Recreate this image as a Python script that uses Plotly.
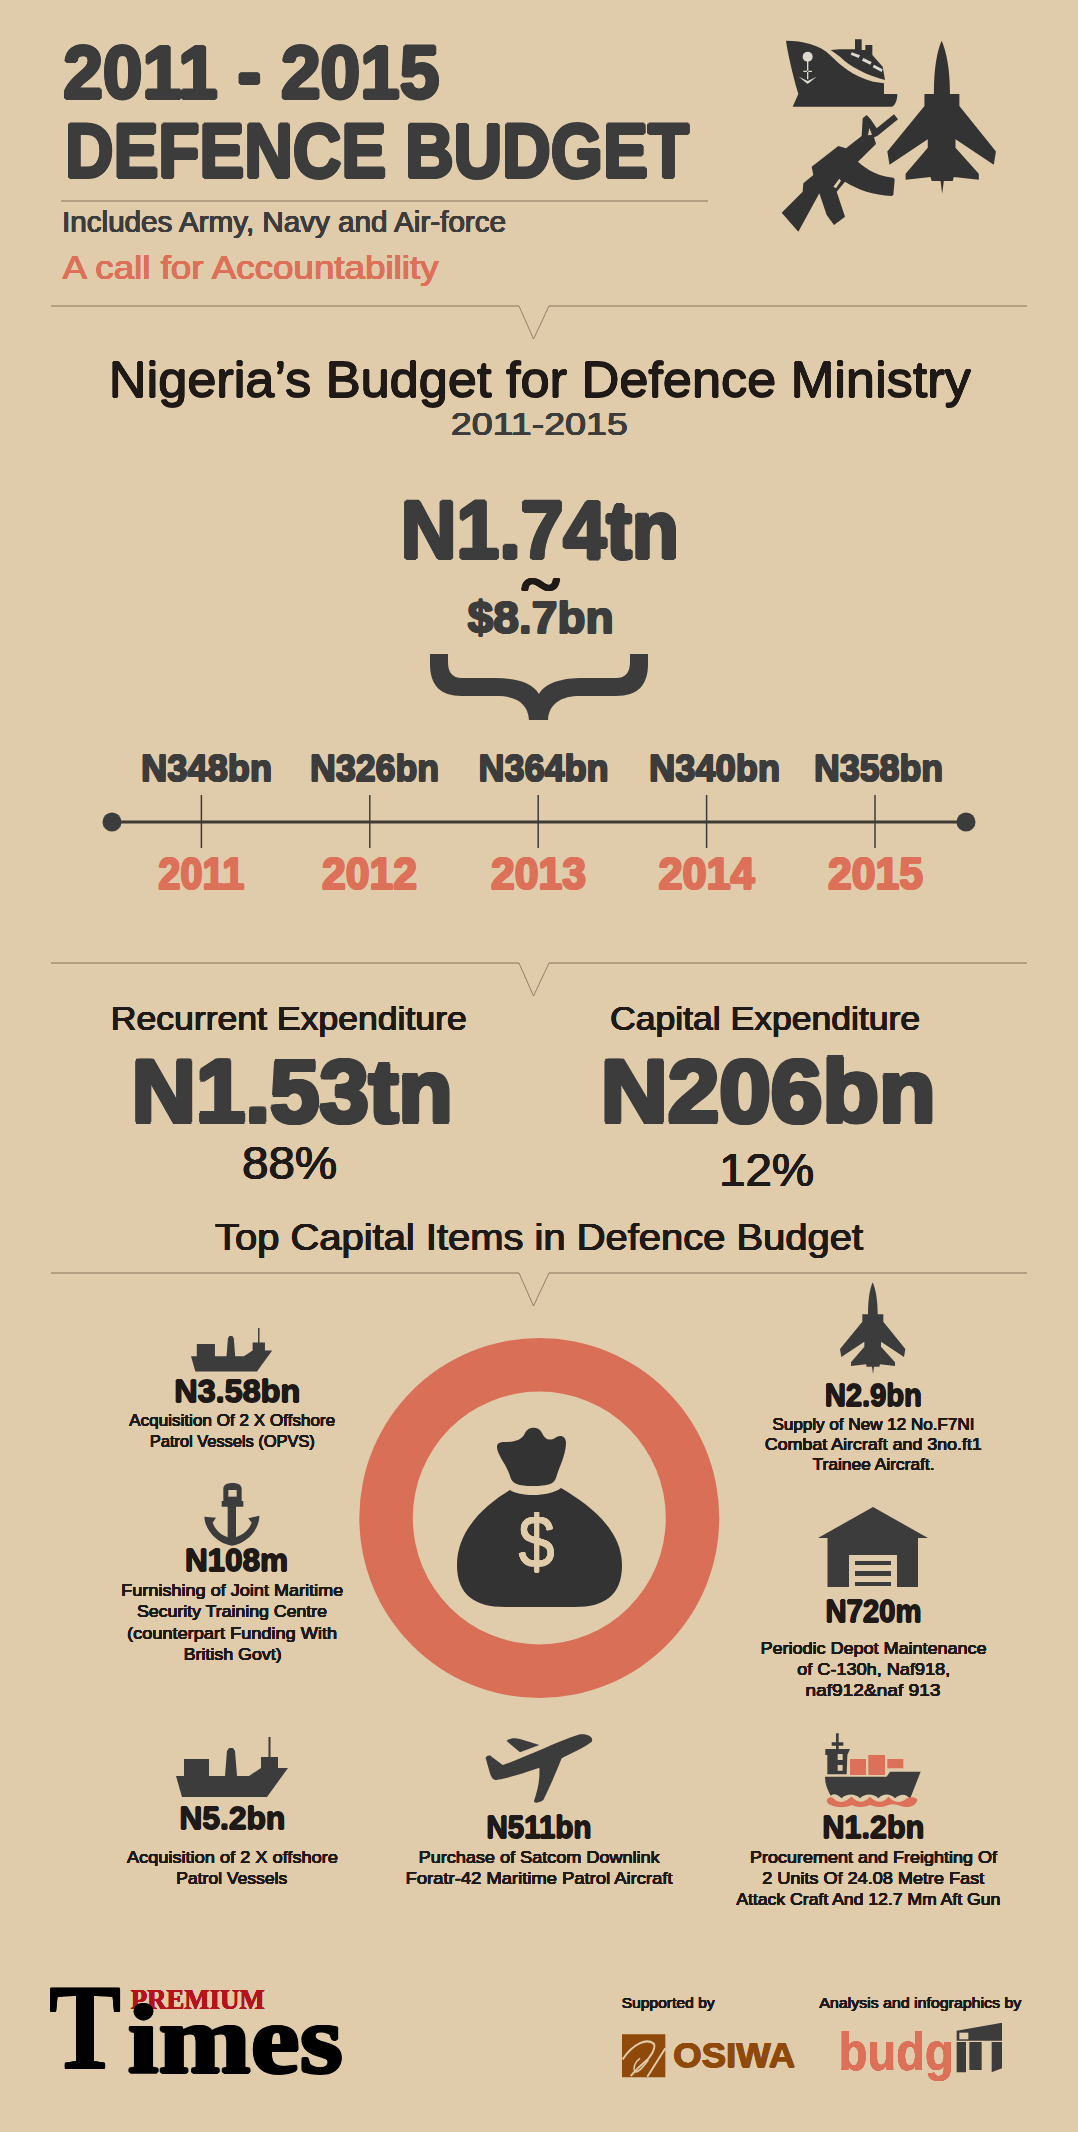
import re, json
import plotly.graph_objects as go

# ---------- data ----------
years = [2011, 2012, 2013, 2014, 2015]
budget_bn = [348, 326, 364, 340, 358]
total_label = "N1.74tn"
total_usd_label = "$8.7bn"
recurrent_label, recurrent_share = "N1.53tn", "88%"
capital_label, capital_share = "N206bn", "12%"
item_amounts = ["N3.58bn", "N108m", "N5.2bn", "N511bn", "N1.2bn", "N2.9bn", "N720m"]
item_texts = [
    ["Acquisition Of 2 X Offshore", "Patrol Vessels (OPVS)"],
    ["Furnishing of Joint Maritime", "Security Training Centre", "(counterpart Funding With", "British Govt)"],
    ["Acquisition of 2 X offshore", "Patrol Vessels"],
    ["Purchase of Satcom Downlink", "Foratr-42 Maritime Patrol Aircraft"],
    ["Procurement and Freighting Of", "2 Units Of 24.08 Metre Fast", "Attack Craft And 12.7 Mm Aft Gun"],
    ["Supply of New 12 No.F7NI", "Combat Aircraft and 3no.ft1", "Trainee Aircraft."],
    ["Periodic Depot Maintenance", "of C-130h, Naf918,", "naf912&naf 913"],
]

# ---------- style / layout ----------
W, H = 1078, 2132
BG, DARK, INK, CORAL, RULE, ICON = "#e0cbaa", "#3c3c3c", "#1f1a17", "#dc7058", "#b39f82", "#333333"
SANS, SERIF = "Liberation Sans", "Liberation Serif"
# amount x, text x per line, amount baseline, amount width, text baselines, text widths
item_pos = [(237, [232, 232], 1403, 126, [1426, 1447], [206, 165]),
            (236, [232, 232, 232, 232], 1572, 103, [1596, 1617, 1639, 1660], [222, 190, 210, 98]),
            (232, [232, 232], 1830, 106, [1863, 1884], [211, 111]),
            (539, [539, 539], 1839, 105, [1863, 1884], [241, 267]),
            (873, [873, 873, 868], 1839, 102, [1863, 1884, 1905], [247, 222, 264]),
            (873, [873, 873, 873], 1407, 97, [1430, 1450, 1470], [202, 217, 122]),
            (873, [873, 873, 873], 1623, 96, [1654, 1675, 1696], [226, 153, 135])]
label_shift = [5, 5, 5, 8, 3]
label_w = [131, 129, 130, 131, 129]
year_w = [86, 95, 95, 96, 95]
PX_PER_YEAR = 168.4
X0 = 2011 - 201.4 / PX_PER_YEAR
LINE_Y, TICK_TOP, TICK_BOTTOM = 822, 795, 848
ann, shp, widths = [], [], []


def stroke(c, t):
    if not t:
        return None
    return ",".join(f"{a*t}px {b*t}px 0 {c}" for a, b in
                    [(1, 0), (-1, 0), (0, 1), (0, -1), (.7, .7), (-.7, .7), (.7, -.7), (-.7, -.7)])


def T(s, x, base, size, w=None, color=DARK, fam=SANS, bold=True, thick=0, xref="x", xshift=0):
    size = size * 0.97
    f = dict(family=fam, size=size, color=color, weight=700 if bold else 400)
    sh = stroke(color, thick)
    if sh:
        f["shadow"] = sh
    ann.append(dict(text=s, x=x, y=base + 0.15 * size + 1, xref=xref, yref="y", showarrow=False,
                    xanchor="center", yanchor="bottom", font=f, borderpad=0, borderwidth=0, xshift=xshift))
    widths.append(w)


def P(d, ox=0, oy=0, s=1.0):
    toks = re.findall(r"[MLCZ]|-?\d+\.?\d*", d)
    out, i = [], 0
    while i < len(toks):
        if toks[i] in "MLCZ":
            out.append(toks[i]); i += 1
        else:
            out.append(f"{ox + float(toks[i]) * s:.2f},{oy + float(toks[i + 1]) * s:.2f}"); i += 2
    return " ".join(out)


def fill(d, color=ICON):
    shp.append(dict(type="path", path=d, fillcolor=color, line=dict(width=0), layer="below", xref="x", yref="y"))


def line(d, color, w):
    shp.append(dict(type="path", path=d, line=dict(color=color, width=w), layer="below", xref="x", yref="y"))


def ell(cx, cy, r, color):
    shp.append(dict(type="circle", x0=cx - r, x1=cx + r, y0=cy - r, y1=cy + r, fillcolor=color,
                    line=dict(width=0), layer="below", xref="x", yref="y"))


def divider(y):
    line(f"M51,{y} L519,{y} M549,{y} L1027,{y}", RULE, 2)
    line(f"M519,{y} L533.5,{y + 33} L549,{y}", "#6f6250", 0.7)


JET = ("M218,22 C226,40 233,70 233,118 L250,118 L250,140 L316,222 L312,246 L243,200 L243,215 L285,262 L285,273 "
       "L240,268 L238,275 L222,275 L219,298 L216,275 L200,275 L198,268 L153,273 L153,262 L193,215 L193,200 "
       "L124,246 L120,222 L187,140 L187,118 L204,118 C204,70 210,40 218,22 Z")
SHIP = ("M0,39 L8,39 L8,22 L33,22 L33,39 L49,39 L51,14 L53,11 L57,11 L59,14 L61,39 L73,39 L85,31 L85,20 L92.5,20 "
        "L92.5,0 L94.5,0 L94.5,20 L102,20 L102,31 L112,31 L91,60 L6,60 Z")

# --- header ---
T("2011 - 2015", 251, 102, 77, 376, thick=1.8)
T("DEFENCE BUDGET", 377, 181, 78, 624, thick=1.8)
line("M61,201 L708,201", RULE, 2)
T("Includes Army, Navy and Air-force", 284, 233, 30, 444, bold=False, thick=.35)
T("A call for Accountability", 250, 280, 35, 376, color=CORAL, bold=False, thick=.35)
# header icons
z = 1 / 3
fill(P("M78,62 C130,62 180,75 210,105 C240,135 280,170 340,185 L372,190 L372,222 L412,222 C412,240 405,258 395,260 "
       "L98,260 L115,222 C100,170 85,110 78,62 Z", 760, 20, z))
fill(P("M212,90 L240,88 L285,88 L285,58 L305,58 L305,90 L316,90 L316,75 L337,75 L337,105 L368,140 L375,180 "
       "C320,165 270,140 240,110 Z", 760, 20, z))
for d in ["M275,97 L300,106 L296,114 L272,104 Z", "M310,114 L335,126 L331,134 L306,122 Z",
          "M342,134 L368,148 L365,156 L338,142 Z"]:
    fill(P(d, 760, 20, z), "#ded9cf")
ell(760 + 143 / 3, 20 + 110 / 3, 5, "#ded9cf")
fill(P("M141,120 L145,120 L145,178 L141,178 Z M116,170 L143,183 L170,170 L143,192 Z M130,152 L156,152 L156,156 L130,156 Z",
       760, 20, z), "#ded9cf")
fill(P("M402,283 L414,298 L352,348 L342,352 L348,372 L294,425 C320,450 360,470 400,473 L404,478 L400,525 L395,528 "
       "C340,525 295,510 255,485 L230,515 L255,590 L222,615 L200,585 L178,520 L115,635 L65,578 L128,515 L130,490 "
       "L160,465 L155,440 L235,378 L258,385 L305,348 L308,295 L320,285 L332,298 L350,325 Z", 760, 20, z))
fill(P("M238,476 L243,482 L228,505 L220,500 Z M328,324 L336,344 L324,346 Z", 760, 20, z), BG)
fill(P(JET, 820.8, 28.47, 0.5543))

# --- total ---
divider(306)
T("Nigeria’s Budget for Defence Ministry", 540, 399, 52, 862, color=INK, bold=False, thick=.6)
T("2011-2015", 539.5, 436, 33, 177, bold=False, thick=.35)
T(total_label, 540, 562, 85, 278, thick=2)
T("~", 540, 606, 58, 38, color=INK, fam=SERIF, thick=.8)
T(total_usd_label, 540, 634, 46, 146, thick=.9)
fill("M430,654 L448,654 L448,662 C448,672 452,678 462,678 L495,678 C515,678 532,682 539,694 C546,682 563,678 583,678 "
     "L616,678 C626,678 630,672 630,662 L630,654 L648,654 L648,664 C648,685 638,696 616,696 L580,696 C562,696 549,703 "
     "548,720 L529,720 C528,703 515,696 497,696 L462,696 C440,696 430,685 430,664 Z", DARK)

# --- timeline labels ---
for yr, v, sh, lw, yw in zip(years, budget_bn, label_shift, label_w, year_w):
    T(f"N{v}bn", yr, 782, 38, lw, xref="x2", xshift=sh, thick=.8)
    T(str(yr), yr, 890, 45, yw, color=CORAL, xref="x2", thick=1.1)

# --- split ---
divider(963)
T("Recurrent Expenditure", 289, 1031, 35, 356, color=INK, bold=False, thick=.4)
T("Capital Expenditure", 765, 1031, 35, 310, color=INK, bold=False, thick=.4)
T(recurrent_label, 291.5, 1127, 92, 321, thick=2.4)
T(capital_label, 767.5, 1127, 92, 335, thick=2.4)
T(recurrent_share, 289, 1181, 48, 95, color=INK, bold=False, thick=.4)
T(capital_share, 766, 1188, 48, 95, color=INK, bold=False, thick=.4)
T("Top Capital Items in Defence Budget", 539, 1251, 39, 648, color=INK, bold=False, thick=.45)
divider(1273)

# --- ring and bag ---
ell(539.3, 1518, 180, "#d96f57")
ell(539.3, 1518, 126.5, BG)
fill("M497,1447 C497,1443 500,1442 505,1442 C515,1442 522,1440 525,1433 C528,1426 539,1426 542,1433 C545,1440 550,1441 "
     "555,1438 C560,1434 566,1436 566,1443 C566,1455 558,1470 556,1478 C554,1484 548,1486 533,1486 C518,1486 512,1484 "
     "510,1476 C507,1465 497,1455 497,1447 Z")
fill("M510,1490 C520,1497 550,1497 561,1488 C590,1505 622,1530 622,1565 C622,1595 605,1607 575,1607 L505,1607 "
     "C475,1607 457,1595 457,1565 C457,1530 485,1505 510,1490 Z")
T("$", 536, 1571, 76, 36, color=BG, bold=False, thick=.5)

# --- items text ---
for amt, lines, (ax, txs, base, aw, bases, ws) in zip(item_amounts, item_texts, item_pos):
    T(amt, ax, base, 33, aw, color=INK, thick=.6)
    for s, tx, b, w in zip(lines, txs, bases, ws):
        T(s, tx, b, 17.5, w, color=INK, bold=False, thick=.15)

# --- item icons ---
fill(P(SHIP, 191, 1328, 0.725), DARK)
fill(P(SHIP, 176, 1737, 1.0), DARK)
fill(P(JET, 800, 1275, z), DARK)
# anchor
fill(P("M143,95 L168,95 L168,190 L155,208 L143,190 Z M125,78 L190,78 L190,95 L125,95 Z "
       "M130,78 L130,42 C130,30 140,24 157,24 C175,24 185,30 185,42 L185,78 Z", 180, 1475, z), DARK)
fill(P("M145,45 L170,45 L170,65 L145,65 Z", 180, 1475, z), BG)
fill(P("M73,125 L108,128 L98,143 C108,170 130,185 155,190 C180,185 205,170 215,143 L205,130 L238,122 "
       "C238,165 200,205 155,212 C110,205 75,165 73,125 Z", 180, 1475, z), DARK)
# house
fill("M873,1507 L928,1538 L918,1538 L918,1587 L827.5,1587 L827.5,1538 L818,1538 Z", DARK)
fill("M849,1555 L897,1555 L897,1587 L849,1587 Z", BG)
fill("M855,1561 L891,1561 L891,1565 L855,1565 Z M855,1571 L891,1571 L891,1576 L855,1576 Z "
     "M855,1582 L891,1582 L891,1586 L855,1586 Z", DARK)
# plane
fill(P("M330,28 C355,25 372,38 365,50 C340,70 300,85 275,100 C255,150 235,195 220,225 C205,235 192,235 192,228 "
       "C205,190 210,160 208,128 C160,145 110,160 80,165 C70,165 65,160 60,145 L47,100 C47,92 60,88 65,95 L98,120 "
       "C160,100 260,50 330,28 Z M110,48 C120,38 135,38 150,42 L208,60 L150,82 Z", 470, 1725, z), DARK)
# container ship
fill(P("M75,155 L260,155 L270,140 L362,140 L330,222 C320,205 300,205 285,220 C270,205 250,205 235,220 C220,205 195,205 "
       "180,220 C165,205 140,205 125,220 C110,205 100,205 92,212 C80,190 75,175 75,155 Z "
       "M82,148 L82,90 L76,90 L76,72 L150,72 L142,90 L140,148 Z "
       "M108,25 L116,25 L116,52 L130,52 L130,62 L116,62 L116,72 L108,72 L108,62 L95,62 L95,52 L108,52 Z",
       800, 1725, z), DARK)
fill(P("M113,87 L128,87 L128,105 L113,105 Z M113,120 L128,120 L128,137 L113,137 Z", 800, 1725, z), BG)
fill(P("M150,102 L198,102 L198,150 L150,150 Z M205,90 L255,90 L255,150 L205,150 Z M262,102 L310,102 L310,130 L262,130 Z",
       800, 1725, z), CORAL)
fill(P("M80,225 C85,215 95,215 100,220 C115,235 130,235 155,215 C175,235 190,235 210,215 C230,235 250,235 265,215 "
       "C285,235 305,235 320,220 C330,215 350,215 352,225 C350,240 330,250 310,245 C290,240 280,235 265,240 "
       "C250,248 230,248 210,240 C190,248 170,248 155,240 C140,248 115,248 100,243 C88,240 80,235 80,225 Z",
       800, 1725, z), CORAL)

# --- footer ---
T("PREMIUM", 197, 2010, 30, 134, color="#b5121b", fam=SERIF, thick=.2)
T("T", 85, 2075, 124, 72, color="#000000", fam=SERIF, thick=.8)
T("imes", 235.5, 2077, 100, 215, color="#000000", fam=SERIF, thick=1.5)
T("Supported by", 668.5, 2008, 16, 93, color=INK, bold=False, thick=.15)
T("Analysis and infographics by", 920, 2008, 16, 202, color=INK, bold=False, thick=.15)
OX, OY = 610, 1980
fill(P("M36,163 L166,163 L166,292 L36,292 Z", OX, OY, z), "#8f4a0b")
line(P("M38,238 C70,190 110,175 130,190 C140,200 125,230 100,250 C85,262 65,285 62,288", OX, OY, z), BG, 2)
line(P("M166,205 L112,290", OX, OY, z), BG, 2)
line(P("M90,235 C75,245 68,265 75,275 C85,280 100,260 115,240", OX, OY, z), BG, 1.5)
T("OSIWA", 734, 2068, 36, 122, color="#8f4a0b", thick=.5)
T("budg", 895.5, 2072, 55, 115, color=CORAL, thick=.3)
fill(P("M1040,152 L1176,128 L1176,182 L1040,182 Z M1040,186 L1068,186 L1068,277 L1040,277 Z "
       "M1078,186 L1115,186 L1115,270 L1078,270 Z M1145,186 L1176,186 L1176,265 L1145,277 Z", OX, OY, z), DARK)
fill(P("M1048,158 L1075,158 L1075,178 L1048,178 Z", OX, OY, z), BG)

# ---------- figure ----------
fig = go.Figure()
ends = [X0 + (112 / PX_PER_YEAR), X0 + (966 / PX_PER_YEAR)]
tick_x, tick_y = [], []
for yr in years:
    tick_x += [yr, yr, None]
    tick_y += [TICK_TOP, TICK_BOTTOM, None]
fig.add_trace(go.Scatter(x=ends, y=[LINE_Y] * 2, xaxis="x2", yaxis="y", mode="lines+markers",
                         line=dict(color="#3f3b36", width=3), marker=dict(color=DARK, size=19),
                         hoverinfo="skip", showlegend=False))
fig.add_trace(go.Scatter(x=tick_x, y=tick_y, xaxis="x2", yaxis="y", mode="lines",
                         line=dict(color="#3f3b36", width=1.5), hoverinfo="skip", showlegend=False))
fig.update_layout(
    width=W, height=H, autosize=False, margin=dict(l=0, r=0, t=0, b=0), paper_bgcolor=BG, plot_bgcolor=BG,
    xaxis=dict(range=[0, W], visible=False, fixedrange=True),
    xaxis2=dict(range=[X0, X0 + W / PX_PER_YEAR], visible=False, overlaying="x", fixedrange=True),
    yaxis=dict(range=[H, 0], visible=False, fixedrange=True),
    annotations=ann, shapes=shp, showlegend=False,
)
post = """
document.body.style.margin = '0';
document.body.style.background = '%s';
var TW = %s;
document.querySelectorAll('.annotation').forEach(function (g) {
  var i = +g.getAttribute('data-index'), t = g.querySelector('text');
  if (t && TW[i]) { t.setAttribute('textLength', TW[i]); t.setAttribute('lengthAdjust', 'spacingAndGlyphs'); }
});
""" % (BG, json.dumps(widths))
fig.write_html("out.html", config=dict(displayModeBar=False), post_script=post)
